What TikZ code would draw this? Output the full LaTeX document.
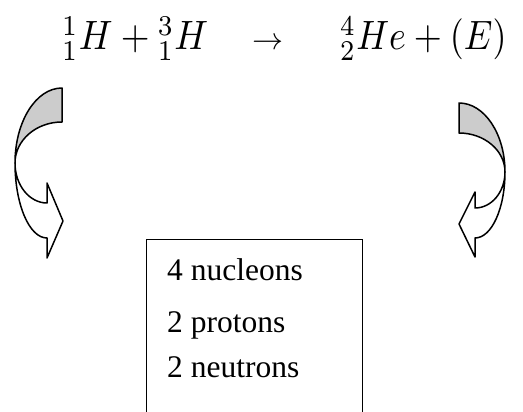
\documentclass[tikz,border=0pt]{standalone}
\usepackage{graphicx}
\usepackage{fontspec}
\setmainfont{Liberation Serif}
\definecolor{bandgray}{HTML}{CCCCCC}
\begin{document}
\begin{tikzpicture}[x=1pt,y=-1pt,
  band/.style={draw=black, line width=1.5pt, line join=round},
  eqn/.style={anchor=base west, inner sep=0pt},
  boxtext/.style={anchor=base west, inner sep=0pt, font=\fontsize{31.5}{38}\selectfont},
  databox/.style={draw=black, line width=1pt, anchor=north west, inner sep=0pt}]
\useasboundingbox (0,0) rectangle (523,412);
\clip (0,0) rectangle (523,412);
% equation
\node[eqn] (lhs) at (62,50) {\scalebox{3.7}[4.1]{${}^{1}_{1}H + {}^{3}_{1}H$}};
\node[anchor=base, inner sep=0pt] (arr) at (268,50) {\scalebox{3.1}{$\rightarrow$}};
\node[eqn] (rhs) at (340,50) {\scalebox{3.6}[4.1]{${}^{4}_{2}He + (E)$}};
% left curved arrow: back (gray) band
\path[band, fill=bandgray] (62,88) .. controls (36,88) and (15,121.6) .. (15,163)
  .. controls (15,140.4) and (36,122) .. (62,122) -- cycle;
% left curved arrow: front band with head
\path[band, fill=white] (15,163) .. controls (15,204.4) and (29.3,238) .. (47,238)
  -- (47,258) -- (63,221) -- (47,183) -- (47,203)
  .. controls (29.3,203) and (15,185) .. (15,163) -- cycle;
% right curved arrow: back (gray) band
\path[band, fill=bandgray] (459,103) .. controls (484.4,103) and (505,133.9) .. (505,172)
  .. controls (505,150.5) and (484.4,133) .. (459,133) -- cycle;
% right curved arrow: front band with head
\path[band, fill=white] (505,172) .. controls (505,208.5) and (491.6,238) .. (475,238)
  -- (475,257) -- (459,224) -- (475,192) -- (475,208)
  .. controls (491.6,208) and (505,191.9) .. (505,172) -- cycle;
% box
\node[databox, minimum width=216pt, minimum height=200pt] (box) at (146,239) {};
\node[boxtext] (nucleons) at (167,280) {4 nucleons};
\node[boxtext] (protons) at (167,332) {2 protons};
\node[boxtext] (neutrons) at (167,377) {2 neutrons};
\end{tikzpicture}
\end{document}
